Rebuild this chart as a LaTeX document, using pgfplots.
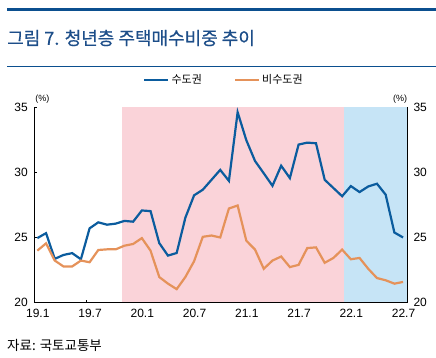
\documentclass[border=0pt]{standalone}
\usepackage{pgfplots}
\pgfplotsset{compat=1.18}
\usepackage{fontspec}
\setmainfont{Liberation Sans}
\newfontfamily\kr{Noto Sans CJK KR}
\newfontfamily\krt[FakeBold=0.5]{Noto Sans CJK KR}
\definecolor{cblue}{HTML}{0B5C9E}
\definecolor{corange}{HTML}{E5925A}
\definecolor{cpink}{HTML}{FAD3D9}
\definecolor{clblue}{HTML}{C6E4F6}
\definecolor{ctitle}{HTML}{1D4E89}
\definecolor{cline}{HTML}{0B4F8F}
\begin{document}
\begin{tikzpicture}[x=1pt,y=1pt]
\path[use as bounding box] (0,0) rectangle (436,357);
\fill[cline] (7,346) rectangle (436,348.5);
\draw[cline, line width=0.9pt] (7,291) -- (436,291);
\node[anchor=west, text=ctitle, inner sep=0pt, font=\krt\fontsize{18}{20}\selectfont] at (7,319) {그림 7. 청년층 주택매수비중 추이};
\node[anchor=west, inner sep=0pt, font=\kr\fontsize{13.5}{15}\selectfont] at (7,12) {자료: 국토교통부};
\begin{axis}[
  at={(34.3pt,54.3pt)}, anchor=south west,
  scale only axis, width=372.7pt, height=195.7pt,
  xmin=-0.35, xmax=42.45, ymin=20, ymax=35,
  axis line style={draw=none},
  tick align=inside, major tick length=3pt,
  tick style={black, line width=0.6pt},
  xtick={-0.35,5.65,11.65,17.65,23.65,29.65,35.65,41.65},
  xticklabels={19.1,19.7,20.1,20.7,21.1,21.7,22.1,22.7},
  xtick pos=bottom,
  xticklabel style={xshift=3.5pt, yshift=-3pt, font=\fontsize{12}{14}\selectfont},
  ytick={20,25,30,35},
  ytick pos=both, yticklabel pos=left,
  yticklabel style={xshift=-3pt, font=\fontsize{12}{14}\selectfont},
  /pgf/number format/assume math mode=true,
  clip=false,
  legend style={at={(0.509,1.138)}, anchor=center, draw=none, fill=none,
    legend columns=2, font=\kr\fontsize{11}{13}\selectfont,
    /tikz/every even column/.append style={column sep=30pt}},
  legend image code/.code={\draw[#1] (0pt,0pt) -- (24pt,0pt);},
]
\fill[cpink] (axis cs:9.72,20) rectangle (axis cs:35.25,35);
\fill[clblue] (axis cs:35.25,20) rectangle (axis cs:42.45,35);
\addplot[cblue, line width=2.2pt] coordinates {
(0,24.95)(1,25.33)(2,23.36)(3,23.66)(4,23.8)(5,23.33)(6,25.7)(7,26.16)(8,25.98)(9,26.06)
(10,26.27)(11,26.21)(12,27.07)(13,27.02)(14,24.57)(15,23.61)(16,23.81)(17,26.52)(18,28.23)(19,28.66)
(20,29.42)(21,30.18)(22,29.34)(23,34.6)(24,32.45)(25,30.86)(26,29.92)(27,28.96)(28,30.5)(29,29.55)
(30,32.12)(31,32.27)(32,32.22)(33,29.42)(34,28.79)(35,28.16)(36,28.94)(37,28.48)(38,28.91)(39,29.12)
(40,28.28)(41,25.38)(42,25.0)};
\addlegendentry{수도권}
\addplot[corange, line width=2.2pt] coordinates {
(0,23.99)(1,24.55)(2,23.23)(3,22.78)(4,22.78)(5,23.23)(6,23.1)(7,24.04)(8,24.09)(9,24.09)
(10,24.37)(11,24.5)(12,24.95)(13,23.99)(14,21.97)(15,21.46)(16,21.04)(17,21.97)(18,23.18)(19,25.05)
(20,25.15)(21,25.0)(22,27.22)(23,27.45)(24,24.75)(25,24.07)(26,22.6)(27,23.23)(28,23.54)(29,22.73)
(30,22.9)(31,24.19)(32,24.24)(33,23.06)(34,23.43)(35,24.07)(36,23.33)(37,23.43)(38,22.6)(39,21.89)
(40,21.72)(41,21.46)(42,21.59)};
\addlegendentry{비수도권}
\draw[black, line width=0.8pt] (rel axis cs:0,1) -- (rel axis cs:0,0) -- (rel axis cs:1,0) -- (rel axis cs:1,1);
\node[font=\fontsize{9}{11}\selectfont, inner sep=0pt] at ([xshift=8pt,yshift=8pt]rel axis cs:0,1) {(\%)};
\node[font=\fontsize{9}{11}\selectfont, inner sep=0pt] at ([xshift=-7pt,yshift=8pt]rel axis cs:1,1) {(\%)};
\end{axis}
\begin{axis}[
  at={(34.3pt,54.3pt)}, anchor=south west,
  scale only axis, width=372.7pt, height=195.7pt,
  xmin=-0.35, xmax=42.45, ymin=20, ymax=35,
  hide x axis, axis y line*=right, axis line style={draw=none},
  ytick={20,25,30,35}, major tick length=0pt,
  yticklabel style={xshift=3pt, font=\fontsize{12}{14}\selectfont},
  /pgf/number format/assume math mode=true,
]
\addplot[draw=none] coordinates {(0,20)};
\end{axis}
\end{tikzpicture}
\end{document}
